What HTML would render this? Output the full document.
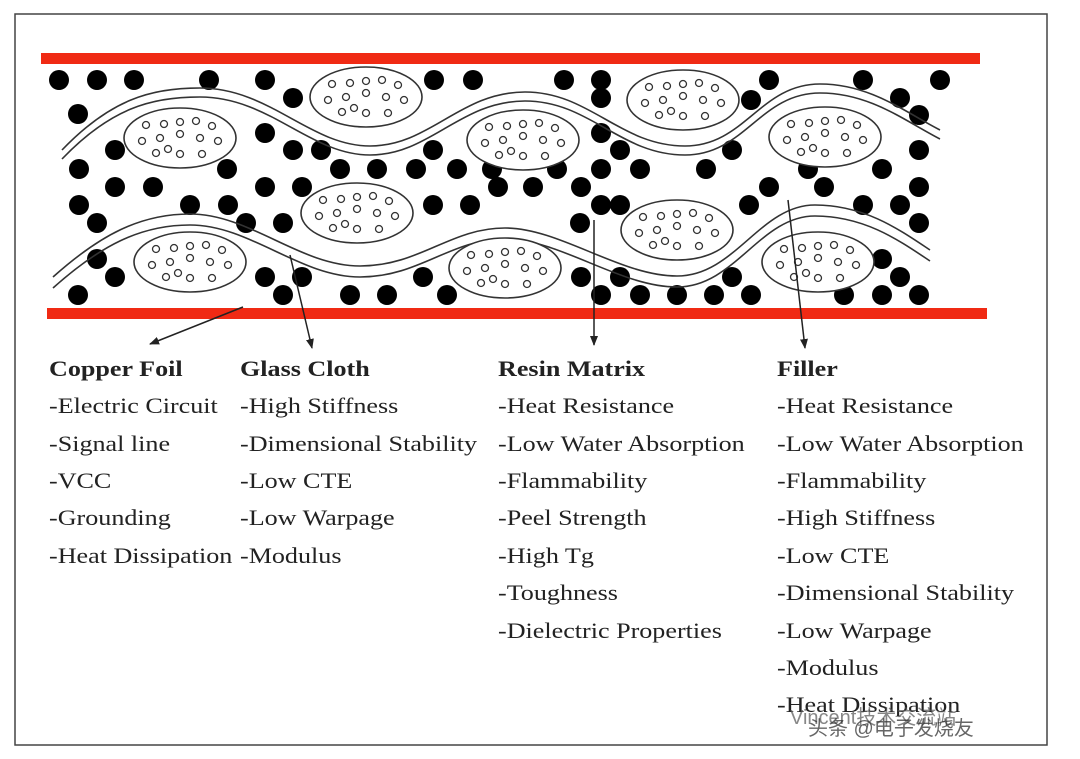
<!DOCTYPE html>
<html><head><meta charset="utf-8"><style>
html,body{margin:0;padding:0;background:#fff;}
svg{display:block;}
text{font-family:"Liberation Serif",serif;fill:#222;font-size:22.5px;}
.b{font-weight:bold;}
</style></head><body>
<svg width="1080" height="759" viewBox="0 0 1080 759" xmlns="http://www.w3.org/2000/svg">
<defs><marker id="a" markerWidth="10" markerHeight="10" refX="9" refY="5" orient="auto" markerUnits="userSpaceOnUse"><path d="M0,1 L10,5 L0,9 z" fill="#222"/></marker>
<g id="e"><ellipse cx="0" cy="0" rx="56" ry="30" fill="#fff" stroke="#333" stroke-width="1.6"/>
<g fill="none" stroke="#333" stroke-width="1.3">
<circle cx="-34" cy="-13" r="3.5"/><circle cx="-16" cy="-14" r="3.5"/><circle cx="0" cy="-16" r="3.5"/><circle cx="16" cy="-17" r="3.5"/><circle cx="32" cy="-12" r="3.5"/>
<circle cx="-38" cy="3" r="3.5"/><circle cx="-20" cy="0" r="3.5"/><circle cx="0" cy="-4" r="3.5"/><circle cx="20" cy="0" r="3.5"/><circle cx="38" cy="3" r="3.5"/>
<circle cx="-24" cy="15" r="3.5"/><circle cx="-12" cy="11" r="3.5"/><circle cx="0" cy="16" r="3.5"/><circle cx="22" cy="16" r="3.5"/></g></g></defs>
<rect x="15" y="14" width="1032" height="731" fill="none" stroke="#444" stroke-width="1.5"/>
<rect x="41" y="53" width="939" height="11" fill="#f02a14"/>
<rect x="47" y="308" width="940" height="11" fill="#f02a14"/>
<g fill="#000">
<circle cx="59" cy="80" r="10"/><circle cx="97" cy="80" r="10"/><circle cx="134" cy="80" r="10"/><circle cx="209" cy="80" r="10"/><circle cx="265" cy="80" r="10"/><circle cx="434" cy="80" r="10"/><circle cx="473" cy="80" r="10"/><circle cx="564" cy="80" r="10"/><circle cx="601" cy="80" r="10"/><circle cx="769" cy="80" r="10"/><circle cx="863" cy="80" r="10"/><circle cx="940" cy="80" r="10"/>
<circle cx="293" cy="98" r="10"/><circle cx="601" cy="98" r="10"/><circle cx="751" cy="100" r="10"/><circle cx="900" cy="98" r="10"/>
<circle cx="78" cy="114" r="10"/><circle cx="919" cy="115" r="10"/><circle cx="265" cy="133" r="10"/><circle cx="601" cy="133" r="10"/>
<circle cx="115" cy="150" r="10"/><circle cx="293" cy="150" r="10"/><circle cx="321" cy="150" r="10"/><circle cx="433" cy="150" r="10"/><circle cx="620" cy="150" r="10"/><circle cx="732" cy="150" r="10"/><circle cx="919" cy="150" r="10"/>
<circle cx="79" cy="169" r="10"/><circle cx="227" cy="169" r="10"/><circle cx="340" cy="169" r="10"/><circle cx="377" cy="169" r="10"/><circle cx="416" cy="169" r="10"/><circle cx="457" cy="169" r="10"/><circle cx="492" cy="169" r="10"/><circle cx="557" cy="169" r="10"/><circle cx="601" cy="169" r="10"/><circle cx="640" cy="169" r="10"/><circle cx="706" cy="169" r="10"/><circle cx="808" cy="169" r="10"/><circle cx="882" cy="169" r="10"/>
<circle cx="115" cy="187" r="10"/><circle cx="153" cy="187" r="10"/><circle cx="265" cy="187" r="10"/><circle cx="302" cy="187" r="10"/><circle cx="498" cy="187" r="10"/><circle cx="533" cy="187" r="10"/><circle cx="581" cy="187" r="10"/><circle cx="769" cy="187" r="10"/><circle cx="824" cy="187" r="10"/><circle cx="919" cy="187" r="10"/>
<circle cx="79" cy="205" r="10"/><circle cx="190" cy="205" r="10"/><circle cx="228" cy="205" r="10"/><circle cx="433" cy="205" r="10"/><circle cx="470" cy="205" r="10"/><circle cx="601" cy="205" r="10"/><circle cx="620" cy="205" r="10"/><circle cx="749" cy="205" r="10"/><circle cx="863" cy="205" r="10"/><circle cx="900" cy="205" r="10"/>
<circle cx="97" cy="223" r="10"/><circle cx="246" cy="223" r="10"/><circle cx="283" cy="223" r="10"/><circle cx="580" cy="223" r="10"/><circle cx="919" cy="223" r="10"/>
<circle cx="97" cy="259" r="10"/><circle cx="882" cy="259" r="10"/>
<circle cx="115" cy="277" r="10"/><circle cx="265" cy="277" r="10"/><circle cx="302" cy="277" r="10"/><circle cx="423" cy="277" r="10"/><circle cx="581" cy="277" r="10"/><circle cx="620" cy="277" r="10"/><circle cx="732" cy="277" r="10"/><circle cx="900" cy="277" r="10"/>
<circle cx="78" cy="295" r="10"/><circle cx="283" cy="295" r="10"/><circle cx="350" cy="295" r="10"/><circle cx="387" cy="295" r="10"/><circle cx="447" cy="295" r="10"/><circle cx="601" cy="295" r="10"/><circle cx="640" cy="295" r="10"/><circle cx="677" cy="295" r="10"/><circle cx="714" cy="295" r="10"/><circle cx="751" cy="295" r="10"/><circle cx="844" cy="295" r="10"/><circle cx="882" cy="295" r="10"/><circle cx="919" cy="295" r="10"/>
</g>
<g fill="none" stroke="#333" stroke-width="1.6">
<path d="M62,150 C110,100 150,88 200,88 C270,88 310,146 370,146 C430,146 460,92 525,92 C590,92 620,146 685,146 C745,146 760,84 820,84 C870,84 905,112 940,130"/>
<path d="M62,159 C110,109 150,97 200,97 C270,97 310,155 370,155 C430,155 460,101 525,101 C590,101 620,155 685,155 C745,155 760,93 820,93 C870,93 905,121 940,139"/>
<path d="M53,277 C100,235 140,214 190,214 C250,214 300,266 360,266 C420,266 450,228 505,228 C560,228 620,276 677,276 C735,276 760,205 815,205 C865,205 900,230 930,250"/>
<path d="M53,288 C100,246 140,225 190,225 C250,225 300,277 360,277 C420,277 450,239 505,239 C560,239 620,287 677,287 C735,287 760,216 815,216 C865,216 900,241 930,261"/>
</g>
<use href="#e" x="366" y="97"/><use href="#e" x="180" y="138"/><use href="#e" x="523" y="140"/><use href="#e" x="683" y="100"/><use href="#e" x="825" y="137"/>
<use href="#e" x="357" y="213"/><use href="#e" x="190" y="262"/><use href="#e" x="505" y="268"/><use href="#e" x="677" y="230"/><use href="#e" x="818" y="262"/>
<g stroke="#222" stroke-width="1.5">
<line x1="243" y1="307" x2="150" y2="344" marker-end="url(#a)"/>
<line x1="290" y1="255" x2="312" y2="348" marker-end="url(#a)"/>
<line x1="594" y1="220" x2="594" y2="345" marker-end="url(#a)"/>
<line x1="788" y1="200" x2="805" y2="348" marker-end="url(#a)"/>
</g>
<g transform="translate(49,0) scale(1.16,1)">
<text x="0" y="376" class="b">Copper Foil</text>
<text x="0" y="413">-Electric Circuit</text><text x="0" y="451">-Signal line</text><text x="0" y="488">-VCC</text><text x="0" y="525">-Grounding</text><text x="0" y="563">-Heat Dissipation</text>
</g>
<g transform="translate(240,0) scale(1.16,1)">
<text x="0" y="376" class="b">Glass Cloth</text>
<text x="0" y="413">-High Stiffness</text><text x="0" y="451">-Dimensional Stability</text><text x="0" y="488">-Low CTE</text><text x="0" y="525">-Low Warpage</text><text x="0" y="563">-Modulus</text>
</g>
<g transform="translate(498,0) scale(1.16,1)">
<text x="0" y="376" class="b">Resin Matrix</text>
<text x="0" y="413">-Heat Resistance</text><text x="0" y="451">-Low Water Absorption</text><text x="0" y="488">-Flammability</text><text x="0" y="525">-Peel Strength</text><text x="0" y="563">-High Tg</text><text x="0" y="600">-Toughness</text><text x="0" y="638">-Dielectric Properties</text>
</g>
<g transform="translate(777,0) scale(1.16,1)">
<text x="0" y="376" class="b">Filler</text>
<text x="0" y="413">-Heat Resistance</text><text x="0" y="451">-Low Water Absorption</text><text x="0" y="488">-Flammability</text><text x="0" y="525">-High Stiffness</text><text x="0" y="563">-Low CTE</text><text x="0" y="600">-Dimensional Stability</text><text x="0" y="638">-Low Warpage</text><text x="0" y="675">-Modulus</text><text x="0" y="712">-Heat Dissipation</text>
</g>
<text x="790" y="724" style="font-family:'Liberation Sans','Noto Sans CJK SC',sans-serif;font-size:20px;fill:#555;opacity:0.7">Vincent技术交流站</text>
<text x="808" y="735" style="font-family:'Liberation Sans','Noto Sans CJK SC',sans-serif;font-size:20px;fill:#333;opacity:0.75">头条 @电子发烧友</text>
</svg>
</body></html>
